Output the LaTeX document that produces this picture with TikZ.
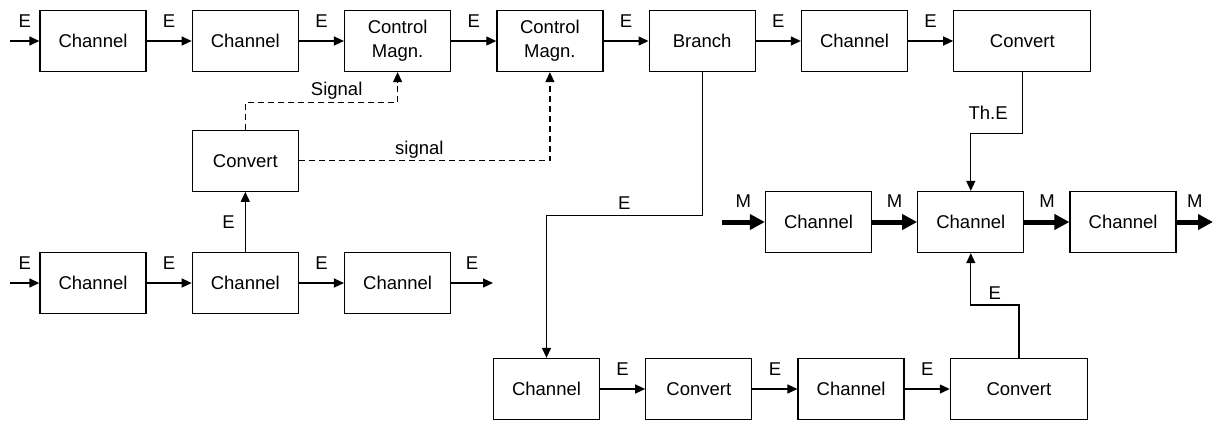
\documentclass[tikz,border=0pt]{standalone}
\usepackage{fontspec}
\setmainfont{Liberation Sans}
\usetikzlibrary{positioning,arrows.meta,calc}
\tikzset{
  fig/.style={font=\fontsize{18.5}{24}\selectfont},
  box/.style={draw,line width=1.3pt,minimum height=61pt,minimum width=106pt,
              align=center,inner sep=2pt},
  widebox/.style={box,minimum width=137pt},
  ln/.style={-{Triangle[length=10pt,width=9pt]},line width=1.3pt},
  lbl/.style={inner sep=1pt},
}

\begin{document}
\begin{tikzpicture}[fig,x=1pt,y=-1pt,
  mln/.style={-{Triangle[length=15pt,width=15pt]},line width=5pt},
  sig/.style={-{Triangle[length=10pt,width=9pt]},line width=1.3pt,
              dash pattern=on 6pt off 4pt}]
\useasboundingbox (0,0) rectangle (1216,421);

% top row
\node[box] (ch1) at (93,41) {Channel};
\node[box,right=45pt of ch1] (ch2) {Channel};
\node[box,right=45pt of ch2] (cm1) {Control\\Magn.};
\node[box,right=45pt of cm1] (cm2) {Control\\Magn.};
\node[box,right=45pt of cm2] (br)  {Branch};
\node[box,right=45pt of br]  (ch3) {Channel};
\node[widebox,right=45pt of ch3] (cv1) {Convert};

% lower left row
\node[box] (lc1) at (93,283) {Channel};
\node[box,right=45pt of lc1] (lc2) {Channel};
\node[box,right=45pt of lc2] (lc3) {Channel};
\node[box,above=60pt of lc2] (cv2) {Convert};

% mass row
\node[box] (rc1) at (818.5,222) {Channel};
\node[box,right=45pt of rc1] (rc2) {Channel};
\node[box,right=45pt of rc2] (rc3) {Channel};

% bottom row
\node[box] (bc1) at (546.5,389) {Channel};
\node[box,right=45pt of bc1] (bv1) {Convert};
\node[box,right=45pt of bv1] (bc2) {Channel};
\node[widebox,right=45pt of bc2] (bv2) {Convert};

\coordinate (tin)  at (10,41);
\coordinate (lin)  at (10,283);
\coordinate (lout) at (493,283);
\coordinate (min)  at (722,222);
\coordinate (mout) at (1213,222);

\draw[ln] (tin) -- node[lbl,above=12pt]{E} (ch1);
\draw[ln] (ch1) -- node[lbl,above=12pt]{E} (ch2);
\draw[ln] (ch2) -- node[lbl,above=12pt]{E} (cm1);
\draw[ln] (cm1) -- node[lbl,above=12pt]{E} (cm2);
\draw[ln] (cm2) -- node[lbl,above=12pt]{E} (br);
\draw[ln] (br)  -- node[lbl,above=12pt]{E} (ch3);
\draw[ln] (ch3) -- node[lbl,above=12pt]{E} (cv1);

\draw[ln] (lin) -- node[lbl,above=12pt]{E} (lc1);
\draw[ln] (lc1) -- node[lbl,above=12pt]{E} (lc2);
\draw[ln] (lc2) -- node[lbl,above=12pt]{E} (lc3);
\draw[ln] (lc3) -- node[lbl,above=12pt]{E} (lout);
\draw[ln] (lc2) -- node[lbl,left=9pt]{E} (cv2);

\draw[sig] (cv2.north) |- node[lbl,above=1pt,pos=0.8]{Signal} ($(cm1.south)+(0,30)$) -- (cm1.south);
\draw[sig] (cv2.east) -| node[lbl,above=0.5pt,pos=0.24]{signal} (cm2.south);

\draw[ln] (br.south) -- ++(0,143) -| node[lbl,above=4pt,pos=0.25]{E} (bc1.north);
\draw[ln] (bc1) -- node[lbl,above=12pt]{E} (bv1);
\draw[ln] (bv1) -- node[lbl,above=12pt]{E} (bc2);
\draw[ln] (bc2) -- node[lbl,above=12pt]{E} (bv2);

\draw[ln] (cv1.south) -- ++(0,61) node[lbl,above left=12pt and 13pt]{Th.E} -| (rc2.north);
\draw[ln] (bv2.north) -- ++(0,-53) -| node[lbl,above=4pt,pos=0.25]{E} (rc2.south);

\draw[mln] (min) -- node[lbl,above=11pt]{M} (rc1);
\draw[mln] (rc1) -- node[lbl,above=11pt]{M} (rc2);
\draw[mln] (rc2) -- node[lbl,above=11pt]{M} (rc3);
\draw[mln] (rc3) -- node[lbl,above=11pt]{M} (mout);

\end{tikzpicture}
\end{document}
